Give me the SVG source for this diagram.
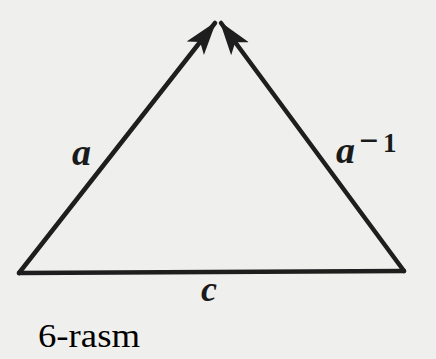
<svg xmlns="http://www.w3.org/2000/svg" width="436" height="359" viewBox="0 0 436 359">
<style>
.edge{stroke:#1e1e1e;stroke-width:4.5;stroke-linecap:round;fill:none}
.lbl{font-family:"Liberation Serif","Times New Roman",serif;font-style:italic;font-weight:bold;fill:#1a1a1a}
.sup{font-family:"Liberation Serif","Times New Roman",serif;font-weight:bold;fill:#1a1a1a}
.cap{font-family:"Liberation Serif","Times New Roman",serif;fill:#000}
</style>
<defs>
<marker id="arr" viewBox="0 0 34 24" refX="32" refY="12" markerWidth="34" markerHeight="24" markerUnits="userSpaceOnUse" orient="auto">
<path d="M0,1 L34,12 L0,23 L8,12 Z" fill="#1e1e1e"/>
</marker>
</defs>
<rect width="436" height="359" fill="#efefed"/>
<g id="connectors">
<path class="edge" d="M19,273 L215,23" marker-end="url(#arr)"/>
<path class="edge" d="M404,271 L221,23" marker-end="url(#arr)"/>
<path class="edge" d="M19,273 L404,271"/>
</g>
<g id="label-a"><text class="lbl" x="72" y="165" font-size="38">a</text></g>
<g id="label-ainv"><text class="lbl" x="336" y="163" font-size="38">a</text><text class="sup" x="359" y="152" font-size="34" font-weight="normal">−</text><text class="sup" x="383" y="152" font-size="27">1</text></g>
<g id="label-c"><text class="lbl" x="201" y="301" font-size="36">c</text></g>
<g id="caption"><text class="cap" x="38" y="347" font-size="33" textLength="102" lengthAdjust="spacingAndGlyphs">6-rasm</text></g>
</svg>
